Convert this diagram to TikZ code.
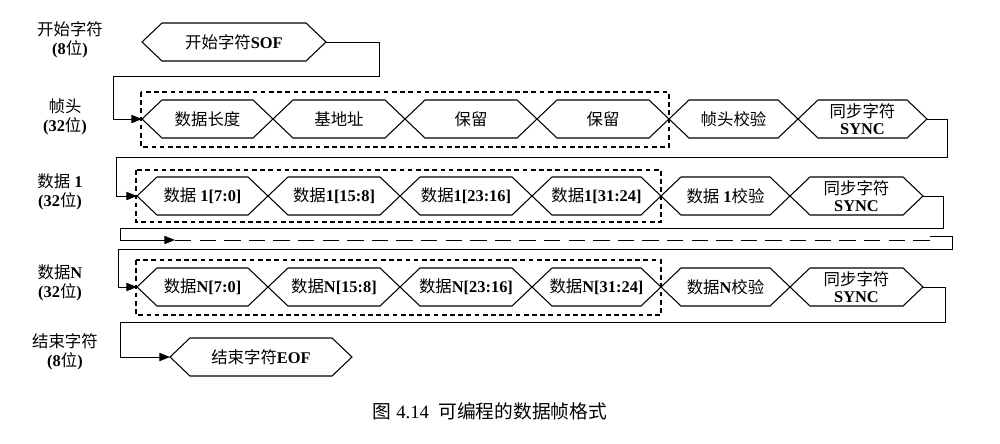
\documentclass[tikz,border=0pt]{standalone}
\usepackage{fontspec}
\setmainfont{Liberation Serif}
\newfontfamily\cjk{Noto Sans CJK SC}
\newcommand\zh[1]{{\cjk #1}}
\newcommand\lb[1]{\textbf{#1}}
\usetikzlibrary{arrows.meta}
% one bus cell: name, left tip x, right tip x, centre y, text
\newcommand\hexcell[5]{%
  \coordinate (#1-w) at (#2,#4);
  \coordinate (#1-e) at (#3,#4);
  \draw[cell] (#2,#4) -- (#2+20,#4-19) -- (#3-20,#4-19) -- (#3,#4)
    -- (#3-20,#4+19) -- (#2+20,#4+19) -- cycle;
  \node[celltext] (#1) at ({(#2+#3)/2},#4) {#5};}
\begin{document}
\begin{tikzpicture}[x=0.03cm,y=-0.03cm,
    cell/.style={line width=0.9pt},
    celltext/.style={font=\fontsize{14}{14.5}\selectfont,align=center,inner sep=0pt},
    side/.style={font=\fontsize{14}{16}\selectfont,align=center},
    frame/.style={line width=2.4pt,dash pattern=on 4pt off 3pt},
    link/.style={line width=0.8pt},
    tip/.style={link,-{Triangle[length=9pt,width=7pt]}}]
\useasboundingbox (0,0) rectangle (1000,443);

% left labels
\node[side] (lsof) at (70,40) {\zh{开始字符}\\\lb{(8}\zh{位}\lb{)}};
\node[side] (lhead) at (65,117) {\zh{帧头}\\\lb{(32}\zh{位}\lb{)}};
\node[side] (ld1) at (60,192) {\zh{数据} \lb{1}\\\lb{(32}\zh{位}\lb{)}};
\node[side] (ldn) at (60,283) {\zh{数据}\lb{N}\\\lb{(32}\zh{位}\lb{)}};
\node[side] (leof) at (65,352) {\zh{结束字符}\\\lb{(8}\zh{位}\lb{)}};

% start of frame
\hexcell{sof}{142}{326}{42}{\zh{开始字符}\lb{SOF}}

% frame header
\hexcell{len}{142}{273}{119}{\zh{数据长度}}
\hexcell{addr}{273}{405}{119}{\zh{基地址}}
\hexcell{resa}{405}{537}{119}{\zh{保留}}
\hexcell{resb}{537}{669}{119}{\zh{保留}}
\hexcell{hchk}{669}{798}{119}{\zh{帧头校验}}
\hexcell{hsync}{798}{927}{119}{\zh{同步字符}\\\lb{SYNC}}
\draw[frame] (141,92) rectangle (669,147);

% data 1
\hexcell{da}{137}{268}{196}{\zh{数据} \lb{1[7:0]}}
\hexcell{db}{268}{400}{196}{\zh{数据}\lb{1[15:8]}}
\hexcell{dc}{400}{532}{196}{\zh{数据}\lb{1[23:16]}}
\hexcell{dd}{532}{661}{196}{\zh{数据}\lb{1[31:24]}}
\hexcell{dchk}{661}{790}{196}{\zh{数据} \lb{1}\zh{校验}}
\hexcell{dsync}{790}{923}{196}{\zh{同步字符}\\\lb{SYNC}}
\draw[frame] (136,170) rectangle (661,222);

% data N
\hexcell{na}{137}{268}{287}{\zh{数据}\lb{N[7:0]}}
\hexcell{nb}{268}{400}{287}{\zh{数据}\lb{N[15:8]}}
\hexcell{nc}{400}{532}{287}{\zh{数据}\lb{N[23:16]}}
\hexcell{nd}{532}{661}{287}{\zh{数据}\lb{N[31:24]}}
\hexcell{nchk}{661}{790}{287}{\zh{数据}\lb{N}\zh{校验}}
\hexcell{nsync}{790}{923}{287}{\zh{同步字符}\\\lb{SYNC}}
\draw[frame] (136,260) rectangle (661,315);

% end of frame
\hexcell{eof}{170}{352}{357}{\zh{结束字符}\lb{EOF}}

% links
\coordinate (gap) at (175,240);
\coordinate (gapend) at (930,240);
\draw[tip] (sof-e) -- ++(53,0) |- (113,76) |- (len-w);
\draw[tip] (hsync-e) -- ++(20,0) |- (116,157) |- (da-w);
\draw[tip] (dsync-e) -- ++(20,0) |- (120,228) |- (gap);
\draw[link,dash pattern=on 14pt off 7pt] (gap) -- (gapend);
\draw[link] (930,236) -- (952,236) |- (118,249);
\draw[tip] (118,249) |- (na-w);
\draw[tip] (nsync-e) -- ++(22,0) |- (120,322) |- (eof-w);

% caption
\node[font=\fontsize{16}{17}\selectfont] (cap) at (490,411) {\zh{图} 4.14 \ \zh{可编程的数据帧格式}};
\end{tikzpicture}
\end{document}
